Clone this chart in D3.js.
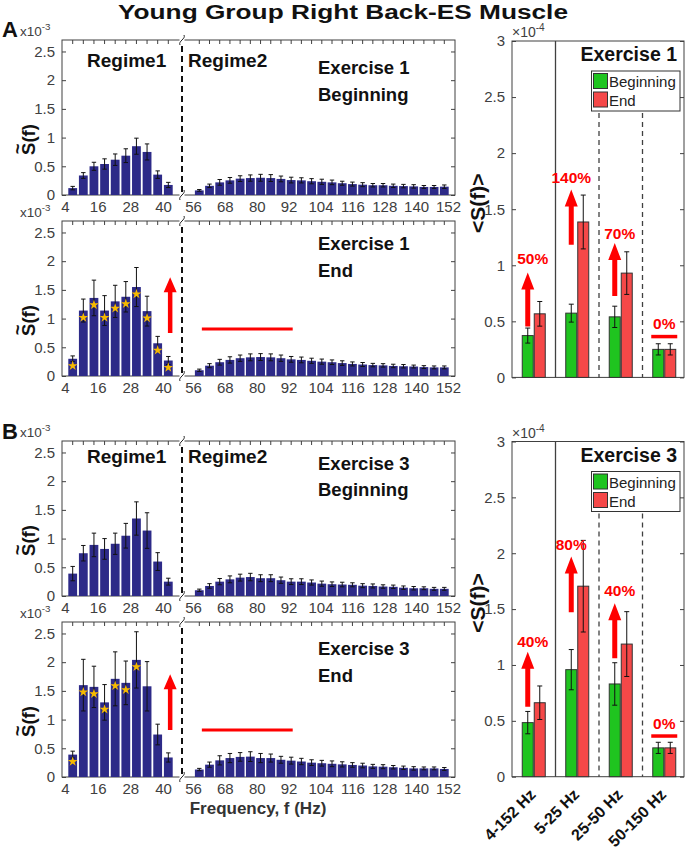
<!DOCTYPE html>
<html><head><meta charset="utf-8">
<script src="https://cdn.jsdelivr.net/npm/d3@7"></script>
<style>body{margin:0;background:#fff}svg{display:block}text{font-family:"Liberation Sans",Arial,sans-serif}</style>
</head><body>
<script>
// ---------------- data ----------------
const freqR1=[4,8,12,16,20,24,28,32,36,40];
const freqR2=[56,60,64,68,72,76,80,84,88,92,96,100,104,108,112,116,120,124,128,132,136,140,144,148,152];
const tickR1=[4,16,28,40];
const tickR2=[56,68,80,92,104,116,128,140,152];
const yTicksLeft=[0,0.5,1,1.5,2,2.5];
const yTicksRight=[0,0.5,1,1.5,2,2.5,3];

// Exercise 1 beginning
const ex1BegR1=[0.12,0.34,0.50,0.54,0.615,0.685,0.85,0.75,0.355,0.175];
const ex1BegR1Err=[0.03,0.05,0.07,0.09,0.10,0.12,0.14,0.14,0.065,0.045];
const ex1BegR2=[0.08,0.16,0.22,0.255,0.285,0.295,0.30,0.295,0.28,0.26,0.255,0.24,0.23,0.22,0.205,0.19,0.18,0.17,0.17,0.16,0.155,0.15,0.14,0.14,0.145];
const ex1BegR2Err=[0.015,0.03,0.05,0.05,0.05,0.055,0.06,0.06,0.05,0.05,0.045,0.045,0.045,0.04,0.035,0.035,0.035,0.03,0.03,0.03,0.03,0.03,0.025,0.025,0.03];
// Exercise 1 end
const ex1EndR1=[0.30,1.14,1.36,1.14,1.30,1.38,1.55,1.13,0.57,0.27];
const ex1EndR1Err=[0.05,0.20,0.31,0.26,0.28,0.265,0.34,0.26,0.12,0.07];
const ex1EndR2=[0.10,0.18,0.24,0.28,0.31,0.325,0.33,0.325,0.31,0.29,0.28,0.265,0.25,0.24,0.225,0.21,0.20,0.19,0.185,0.175,0.17,0.165,0.155,0.15,0.15];
const ex1EndR2Err=[0.02,0.035,0.05,0.055,0.055,0.06,0.06,0.06,0.055,0.05,0.05,0.045,0.045,0.04,0.04,0.035,0.035,0.03,0.03,0.03,0.03,0.025,0.025,0.025,0.025];
const ex1EndStars=[1,1,1,1,1,1,1,1,1,1];
// Exercise 3 beginning
const ex3BegR1=[0.39,0.745,0.89,0.82,0.91,1.05,1.35,1.14,0.60,0.25];
const ex3BegR1Err=[0.125,0.135,0.205,0.18,0.185,0.215,0.29,0.31,0.155,0.06];
const ex3BegR2=[0.10,0.175,0.25,0.29,0.32,0.33,0.31,0.31,0.275,0.25,0.25,0.235,0.215,0.205,0.20,0.195,0.18,0.175,0.165,0.16,0.145,0.135,0.135,0.125,0.125];
const ex3BegR2Err=[0.02,0.04,0.055,0.06,0.06,0.065,0.06,0.06,0.055,0.05,0.05,0.045,0.045,0.04,0.04,0.035,0.035,0.035,0.03,0.03,0.03,0.03,0.025,0.025,0.025];
// Exercise 3 end
const ex3EndR1=[0.39,1.60,1.57,1.30,1.71,1.64,2.04,1.58,0.74,0.34];
const ex3EndR1Err=[0.06,0.45,0.36,0.31,0.47,0.38,0.49,0.43,0.18,0.08];
const ex3EndR2=[0.13,0.215,0.29,0.33,0.35,0.355,0.33,0.33,0.30,0.285,0.27,0.25,0.24,0.23,0.22,0.21,0.20,0.185,0.18,0.17,0.16,0.15,0.15,0.15,0.14];
const ex3EndR2Err=[0.02,0.045,0.08,0.08,0.075,0.085,0.08,0.07,0.06,0.06,0.055,0.05,0.05,0.05,0.045,0.04,0.04,0.035,0.035,0.03,0.03,0.03,0.025,0.025,0.025];
const ex3EndStars=[1,1,1,1,1,1,1,0,0,0];

// band averages (x1e-4)
const bandLabels=["4-152 Hz","5-25 Hz","25-50 Hz","50-150 Hz"];
const ex1Begin=[0.373,0.573,0.54,0.25];
const ex1BeginErr=[0.067,0.08,0.095,0.05];
const ex1End=[0.567,1.386,0.93,0.25];
const ex1EndErr=[0.11,0.24,0.19,0.05];
const ex1Pct=["50%","140%","70%","0%"];
const ex3Begin=[0.484,0.958,0.83,0.258];
const ex3BeginErr=[0.10,0.18,0.19,0.05];
const ex3End=[0.662,1.705,1.187,0.258];
const ex3EndErr=[0.15,0.41,0.29,0.05];
const ex3Pct=["40%","80%","40%","0%"];

// ---------------- drawing ----------------
const W=689,H=849;
const svg=d3.select("body").append("svg").attr("width",W).attr("height",H);
const AX="#404040", BAR="#2d2a88", RED="#ff0000";
const FF='"Liberation Sans",Arial,sans-serif';
const LX0=62, LX1=455, BRK=182, PH=155;
const x1=d3.scaleLinear().domain([4,40]).range([72.7,168.3]);
const x2=d3.scaleLinear().domain([56,152]).range([199.3,444.3]);
const xl1=d3.scaleLinear().domain([4,40]).range([65,163]);
const xl2=d3.scaleLinear().domain([56,152]).range([193,448]);
const BW=8.8;

function arrow(g,x,yTail,yTip,sw,hw,hh){
  g.append("path").attr("fill",RED)
   .attr("d",`M${x-sw/2},${yTail}L${x-sw/2},${yTip+hh}L${x-hw/2},${yTip+hh}L${x},${yTip}L${x+hw/2},${yTip+hh}L${x+sw/2},${yTip+hh}L${x+sw/2},${yTail}Z`);
}
function squiggle(g,x,y){
  g.append("rect").attr("x",x-2.5).attr("y",y-2).attr("width",5).attr("height",4).attr("fill","#fff");
  g.append("path").attr("fill","none").attr("stroke","#222").attr("stroke-width",1)
   .attr("d",`M${x-2},${y+5}C${x-4},${y+1} ${x+4},${y-1} ${x+2},${y-5}`);
}
function sciLabel(g,x,y,base,exp,size){
  const t=g.append("text").attr("x",x).attr("y",y).attr("fill",AX).attr("font-size",size);
  t.append("tspan").text(base);
  t.append("tspan").attr("dy",-6).attr("font-size",size*0.72).text(exp);
}
function sLabel(g,x,y,size,angleBrackets){
  const gg=g.append("g").attr("transform",`translate(${x},${y}) rotate(-90)`);
  const txt=angleBrackets?"<S(f)>":"S(f)";
  const t=gg.append("text").attr("font-size",size).attr("font-weight","bold").attr("fill","#111")
    .attr("text-anchor","middle").text(txt);
  if(!angleBrackets){
    const tmp=gg.append("text").attr("font-size",size).attr("font-weight","bold").text("S");
    const sw=tmp.node().getComputedTextLength(); tmp.remove();
    const w=t.node().getComputedTextLength();
    gg.append("text").attr("font-size",size).attr("font-weight","bold").attr("fill","#111")
      .attr("text-anchor","middle").attr("x",-w/2+sw/2).attr("y",-size*0.62).text("~");
  }
}

function leftPanel(cfg){
  const top=cfg.top, bot=top+PH;
  const y=d3.scaleLinear().domain([0,2.7]).range([bot,top]);
  const g=svg.append("g");
  g.append("rect").attr("x",LX0).attr("y",top).attr("width",LX1-LX0).attr("height",PH)
   .attr("fill","none").attr("stroke",AX).attr("stroke-width",1);
  const ya=g.append("g").attr("transform",`translate(${LX0},0)`)
   .call(d3.axisLeft(y).tickValues(yTicksLeft).tickSize(-4).tickPadding(7).tickFormat(d=>String(d)));
  ya.select(".domain").remove();
  ya.selectAll("line").attr("stroke",AX);
  ya.selectAll("text").attr("font-size",15).attr("fill",AX).attr("font-family",FF);
  const yr=g.append("g").attr("transform",`translate(${LX1},0)`)
   .call(d3.axisRight(y).tickValues(yTicksLeft).tickSize(-4).tickFormat(""));
  yr.select(".domain").remove(); yr.selectAll("line").attr("stroke",AX);
  const xs=freqR1.map(f=>x1(f)).concat(freqR2.map(f=>x2(f)));
  g.selectAll(".tt").data(xs).join("line").attr("x1",d=>d).attr("x2",d=>d).attr("y1",top).attr("y2",top+4).attr("stroke",AX);
  g.selectAll(".tb").data(xs).join("line").attr("x1",d=>d).attr("x2",d=>d).attr("y1",bot).attr("y2",bot-4).attr("stroke",AX);
  [[xl1,tickR1],[xl2,tickR2]].forEach(([s,tv])=>{
    const xa=g.append("g").attr("transform",`translate(0,${bot})`)
      .call(d3.axisBottom(s).tickValues(tv).tickSize(0).tickPadding(6));
    xa.select(".domain").remove();
    xa.selectAll("text").attr("font-size",15).attr("fill",AX).attr("font-family",FF);
  });
  const drawBars=(freq,vals,errs,xs)=>{
    g.append("g").selectAll("rect").data(freq).join("rect")
      .attr("x",(d)=>xs(d)-BW/2).attr("width",BW)
      .attr("y",(d,i)=>y(vals[i])).attr("height",(d,i)=>bot-y(vals[i])).attr("fill",BAR);
    const eg=g.append("g").attr("stroke","#111").attr("stroke-width",1);
    freq.forEach((f,i)=>{
      const cx=xs(f), hi=y(vals[i]+errs[i]), lo=y(Math.max(0,vals[i]-errs[i]));
      eg.append("line").attr("x1",cx).attr("x2",cx).attr("y1",hi).attr("y2",lo);
      eg.append("line").attr("x1",cx-2.2).attr("x2",cx+2.2).attr("y1",hi).attr("y2",hi);
      eg.append("line").attr("x1",cx-2.2).attr("x2",cx+2.2).attr("y1",lo).attr("y2",lo);
    });
  };
  drawBars(freqR1,cfg.r1,cfg.e1,x1);
  drawBars(freqR2,cfg.r2,cfg.e2,x2);
  if(cfg.stars){
    const star=d3.symbol(d3.symbolStar,30);
    g.append("g").selectAll("path").data(freqR1.filter((f,i)=>cfg.stars[i]))
      .join("path").attr("d",star).attr("fill","#f6b900")
      .attr("transform",d=>`translate(${x1(d)},${y(cfg.r1[freqR1.indexOf(d)])+7})`);
  }
  g.append("line").attr("x1",BRK).attr("x2",BRK).attr("y1",top+6).attr("y2",bot)
   .attr("stroke","#111").attr("stroke-width",2).attr("stroke-dasharray","6,4");
  squiggle(g,BRK,top); squiggle(g,BRK,bot);
  sciLabel(g,20,top-4,"x10","-3",13.5);
  sLabel(g,35,top+PH/2+22,18.5,false);
  if(cfg.regime){
    g.append("text").attr("x",87).attr("y",top+cfg.regime).attr("font-size",19).attr("font-weight","bold").attr("fill","#111").text("Regime1");
    g.append("text").attr("x",188).attr("y",top+cfg.regime).attr("font-size",19).attr("font-weight","bold").attr("fill","#111").text("Regime2");
  }
  g.append("text").attr("x",318).attr("y",top+cfg.off[0]).attr("font-size",18.5).attr("font-weight","bold").attr("fill","#111").text(cfg.ex);
  g.append("text").attr("x",318).attr("y",top+cfg.off[1]).attr("font-size",18.5).attr("font-weight","bold").attr("fill","#111").text(cfg.st);
  if(cfg.arrow){
    arrow(g,x1(40.7),y(cfg.arrow[0]),y(cfg.arrow[1]),4.5,13,15);
    g.append("line").attr("x1",x2(57)).attr("x2",x2(92.6)).attr("y1",y(cfg.arrow[2])).attr("y2",y(cfg.arrow[2]))
      .attr("stroke",RED).attr("stroke-width",3);
  }
}

leftPanel({top:40,r1:ex1BegR1,e1:ex1BegR1Err,r2:ex1BegR2,e2:ex1BegR2Err,regime:27,ex:"Exercise 1",st:"Beginning",off:[34,61]});
leftPanel({top:221,r1:ex1EndR1,e1:ex1EndR1Err,r2:ex1EndR2,e2:ex1EndR2Err,stars:ex1EndStars,ex:"Exercise 1",st:"End",off:[29,56],arrow:[0.75,1.72,0.82]});
leftPanel({top:441,r1:ex3BegR1,e1:ex3BegR1Err,r2:ex3BegR2,e2:ex3BegR2Err,regime:22,ex:"Exercise 3",st:"Beginning",off:[29,55]});
leftPanel({top:622,r1:ex3EndR1,e1:ex3EndR1Err,r2:ex3EndR2,e2:ex3EndR2Err,stars:ex3EndStars,ex:"Exercise 3",st:"End",off:[33,60],arrow:[0.82,1.79,0.82]});

// right panels
const RX0=512, RX1=684;
const xb=d3.scaleBand().domain(bandLabels).range([512,686]);
function rightPanel(cfg){
  const y=d3.scaleLinear().domain([0,3]).range([cfg.bot,cfg.top]);
  const g=svg.append("g");
  g.append("rect").attr("x",RX0).attr("y",cfg.top).attr("width",RX1-RX0).attr("height",cfg.bot-cfg.top)
   .attr("fill","none").attr("stroke",AX);
  const ya=g.append("g").attr("transform",`translate(${RX0},0)`)
   .call(d3.axisLeft(y).tickValues(yTicksRight).tickSize(-4).tickPadding(7).tickFormat(d=>String(d)));
  ya.select(".domain").remove(); ya.selectAll("line").attr("stroke",AX);
  ya.selectAll("text").attr("font-size",15).attr("fill",AX).attr("font-family",FF);
  const yr=g.append("g").attr("transform",`translate(${RX1},0)`)
   .call(d3.axisRight(y).tickValues(yTicksRight).tickSize(-4).tickFormat(""));
  yr.select(".domain").remove(); yr.selectAll("line").attr("stroke",AX);
  const sep=[1,2,3].map(i=>xb(bandLabels[i]));
  g.append("line").attr("x1",sep[0]).attr("x2",sep[0]).attr("y1",cfg.top).attr("y2",cfg.bot).attr("stroke",AX).attr("stroke-width",1.3);
  [sep[1],sep[2]].forEach(sx=>g.append("line").attr("x1",sx).attr("x2",sx).attr("y1",cfg.top+72).attr("y2",cfg.bot)
     .attr("stroke",AX).attr("stroke-width",1.3).attr("stroke-dasharray","5,4"));
  const bw=11;
  const series=[[cfg.beg,cfg.begErr,"#1fc41f",-bw-0.5],[cfg.end,cfg.endErr,"#f54848",0.5]];
  series.forEach(([vals,errs,col,off])=>{
    g.append("g").selectAll("rect").data(bandLabels).join("rect")
     .attr("x",d=>xb(d)+xb.bandwidth()/2+off).attr("width",bw)
     .attr("y",(d,i)=>y(vals[i])).attr("height",(d,i)=>cfg.bot-y(vals[i]))
     .attr("fill",col).attr("stroke","#333").attr("stroke-width",1);
    const eg=g.append("g").attr("stroke","#111").attr("stroke-width",1);
    bandLabels.forEach((b,i)=>{
      const cx=xb(b)+xb.bandwidth()/2+off+bw/2, hi=y(vals[i]+errs[i]), lo=y(vals[i]-errs[i]);
      eg.append("line").attr("x1",cx).attr("x2",cx).attr("y1",hi).attr("y2",lo);
      eg.append("line").attr("x1",cx-2.5).attr("x2",cx+2.5).attr("y1",hi).attr("y2",hi);
      eg.append("line").attr("x1",cx-2.5).attr("x2",cx+2.5).attr("y1",lo).attr("y2",lo);
    });
  });
  if(cfg.xlabels){
    bandLabels.forEach(b=>{
      const cx=xb(b)+xb.bandwidth()/2;
      g.append("text").attr("transform",`translate(${cx+3},${cfg.bot+19}) rotate(-45)`)
       .attr("text-anchor","end").attr("font-size",16).attr("font-weight","bold").attr("fill","#111").text(b);
    });
  }
  const gx=i=>xb(bandLabels[i])+xb.bandwidth()/2-6;
  cfg.arrows.forEach((a,i)=>{
    arrow(g,gx(i),y(a[0]),y(a[1]),5,13,17);
  });
  cfg.pct.forEach((p,i)=>{
    const lx=[gx(0)+5,gx(1),gx(2)+5,xb(bandLabels[3])+xb.bandwidth()/2][i];
    g.append("text").attr("x",lx).attr("y",y(cfg.pctY[i])+6).attr("text-anchor","middle")
     .attr("font-size",15.5).attr("font-weight","bold").attr("fill",RED).text(p);
  });
  const c3=xb(bandLabels[3])+xb.bandwidth()/2;
  g.append("line").attr("x1",c3-13).attr("x2",c3+13).attr("y1",y(0.364)).attr("y2",y(0.364)).attr("stroke",RED).attr("stroke-width",3.5);
  g.append("text").attr("x",677).attr("y",cfg.top+20).attr("text-anchor","end").attr("font-size",19.5).attr("font-weight","bold").attr("fill","#111").text(cfg.title);
  const lg=g.append("g");
  lg.append("rect").attr("x",591.5).attr("y",cfg.top+30).attr("width",88.5).attr("height",40).attr("fill","#fff").attr("stroke","#333");
  [["Beginning","#1fc41f"],["End","#f54848"]].forEach(([t,c],i)=>{
    lg.append("rect").attr("x",593.5).attr("y",cfg.top+32.5+i*18.5).attr("width",14).attr("height",15).attr("fill",c).attr("stroke","#333");
    lg.append("text").attr("x",609).attr("y",cfg.top+46+i*19).attr("font-size",15).attr("fill","#222").text(t);
  });
  sciLabel(g,512,cfg.top-4,"×10","-4",14);
  sLabel(g,485,(cfg.top+cfg.bot)/2-6,21,true);
}
rightPanel({top:41,bot:377.4,beg:ex1Begin,begErr:ex1BeginErr,end:ex1End,endErr:ex1EndErr,pct:ex1Pct,title:"Exercise 1",
  arrows:[[0.453,0.936],[1.183,1.675],[0.727,1.198]],pctY:[1.066,1.786,1.288,0.489]});
rightPanel({top:441.5,bot:776.7,beg:ex3Begin,begErr:ex3BeginErr,end:ex3End,endErr:ex3EndErr,pct:ex3Pct,title:"Exercise 3",xlabels:true,
  arrows:[[0.627,1.119],[1.472,1.97],[1.06,1.552]],pctY:[1.215,2.083,1.671,0.483]});

svg.append("text").attr("x",343).attr("y",19).attr("text-anchor","middle").attr("font-size",20).attr("font-weight","bold").attr("fill","#111")
  .attr("textLength",450).attr("lengthAdjust","spacingAndGlyphs").text("Young Group Right Back-ES Muscle");
svg.append("text").attr("x",2).attr("y",37).attr("font-size",22).attr("font-weight","bold").attr("fill","#111").text("A");
svg.append("text").attr("x",2).attr("y",439).attr("font-size",22).attr("font-weight","bold").attr("fill","#111").text("B");
svg.append("text").attr("x",258).attr("y",814).attr("text-anchor","middle").attr("font-size",17).attr("font-weight","bold").attr("fill","#333").text("Frequency, f (Hz)");
</script>
</body></html>
